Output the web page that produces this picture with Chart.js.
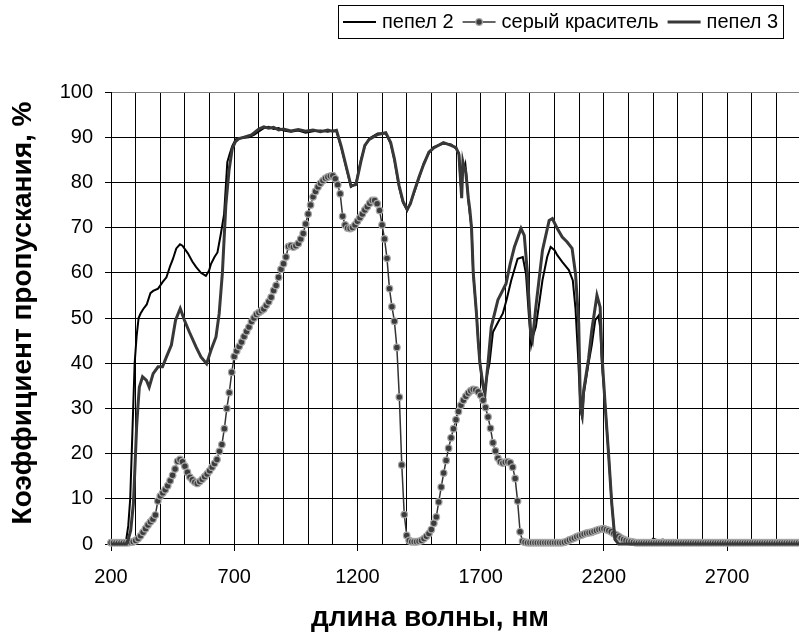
<!DOCTYPE html>
<html lang="ru">
<head>
  <meta charset="UTF-8" />
  <title>Коэффициент пропускания</title>
  <script src="https://cdn.jsdelivr.net/npm/chart.js@4.4.0/dist/chart.umd.min.js"></script>
  <style>
html, body { margin: 0; padding: 0; background: #fff; overflow: hidden; }
#wrap { position: absolute; left: 0; top: 0; width: 815px; height: 632px; }
  </style>
</head>
<body>
  <div id="wrap"><canvas id="chart" width="815" height="632"></canvas></div>

  <script>
    // пепел 2 : wavelength (nm) / transmission (%)
    const ash2Wl = [200,250,262,270,278,284,290,296,304,312,
      320,331,345,360,371,391,410,425,440,451,
      465,480,490,512,530,545,565,585,598,606,
      620,632,646,659,667,672,680,692,706,730,
      759,780,800,820,840,860,880,900,930,960,
      990,1020,1050,1080,1100,1115,1134,1154,1174,1194,
      1214,1230,1248,1282,1315,1335,1350,1369,1385,1402,
      1415,1429,1450,1469,1490,1509,1549,1580,1600,1612,
      1618,1623,1628,1632,1638,1643,1650,1656,1663,1670,
      1683,1690,1697,1710,1716,1725,1736,1750,1770,1790,
      1805,1824,1850,1871,1884,1897,1905,1912,1924,1951,
      1970,1984,2000,2011,2031,2058,2074,2085,2095,2105,
      2112,2118,2138,2151,2165,2178,2185,2192,2205,2219,
      2232,2245,2260,2380,2400,2420,2440,2460,3000];
    const ash2T = [0,0,1,4,10,20,30,40,46,50,
      51,52,53,55.5,56,56.5,58,59,61.5,63,
      65.4,66.3,66,64.3,62.5,61.3,60,59.3,60.5,62,
      63.5,64.5,68.7,73,80,84.5,86,88,89.5,89.8,
      90,90.5,91.3,92,92.3,91.8,92,91.5,91.2,91.5,
      91,91.3,91.5,91.2,91.5,91.3,87.8,83.4,79,79.7,
      84.9,88,89.7,90.8,90.8,88.6,85,79,75.5,73.8,
      75.5,77.5,81,84.2,86.5,87.8,88.6,88.4,87.5,86.5,
      80,77.5,85,82.7,84,81.2,76,73.1,70,59.8,
      51,45,40,34.7,32.9,37,40,46.9,49,51,
      54,58.3,63.1,63.5,59.8,49.5,44,46,48,58.4,
      63.5,65.7,65,63.9,62.4,60.6,58.3,52,42,30,
      28,33,40,44,49.5,50.5,48,40,31,20,
      9,1,0,0,1.2,0.8,1,0,0];

    // пепел 3
    const ash3Wl = [200,262,270,280,291,298,304,310,315,328,
      344,355,371,391,409,425,445,462,481,498,
      518,545,565,588,606,626,639,652,666,679,
      692,705,719,740,770,800,820,840,860,880,
      900,930,960,990,1020,1050,1080,1100,1115,1134,
      1154,1174,1194,1214,1230,1248,1282,1315,1335,1350,
      1369,1385,1402,1415,1429,1450,1469,1490,1509,1549,
      1580,1600,1612,1618,1623,1628,1632,1638,1643,1650,
      1656,1663,1670,1683,1690,1697,1710,1718,1730,1743,
      1770,1803,1820,1837,1864,1877,1890,1904,1910,1924,
      1951,1978,1991,2011,2031,2051,2071,2085,2098,2105,
      2112,2118,2138,2151,2172,2185,2192,2205,2219,2232,
      2245,2260,3000];
    const ash3T = [0,0,1,3,9,18,26,31,34.7,37,
      36.2,34.7,37.7,39.2,39.2,41.4,44,49.5,52.1,49.5,
      46.9,43.6,41.4,39.9,42.9,45.8,51,60,75,82.7,
      87.5,89,89.7,90,90.5,91.8,92.3,92,92.2,91.6,
      91.8,91.4,91.7,91.3,91.6,91.2,91.6,91.3,91.5,88,
      83.6,79.2,79.5,84.6,88.2,89.5,90.6,91,88.8,85.2,
      79.3,75.8,74,75.3,77.8,81.2,84,86.7,87.6,88.8,
      88.2,87.7,86.2,81,76.5,84.5,83.5,83,80.5,76.5,
      74,70,60,51,45,40,35,33.5,40,48,
      54,57.6,62,65.7,69.8,68.3,59.8,46,45,52.4,
      65,71.6,72,69.8,67.9,66.8,65.4,59.8,48.8,30,
      28.5,34,41,47.3,55,52.4,42,31,20,9,
      1,0,0];

    // серый краситель : one value every 10 nm from 200 nm, one row per 100 nm
    const dyeStart = 200, dyeStep = 10;
    const dyeT = [
      0.3,0.3,0.3,0.3,0.3,0.3,0.3,0.3,0.4,0.5,        // 200
      0.8,1.2,1.8,2.6,3.4,4.2,4.9,5.5,6.4,9.5,        // 300
      10.6,11.3,12.0,12.9,14.0,15.2,16.6,18.3,18.7,18.2, // 400
      17.2,15.9,14.8,14.2,13.7,13.4,13.8,14.3,14.9,15.5, // 500
      16.2,17.0,17.8,18.7,20.5,22.0,25.5,30.0,33.5,38.0, // 600
      41.5,42.7,43.7,44.7,45.9,47.0,48.0,49.2,50.0,50.8, // 700
      51.2,51.6,52.0,52.8,53.6,54.6,56.1,57.2,59.0,60.8, // 800
      62.0,63.5,65.8,66.0,65.7,66.0,66.5,67.5,68.7,70.8, // 900
      73.0,75.0,76.8,78.0,79.0,79.8,80.4,80.9,81.2,81.4, // 1000
      81.5,80.8,79.5,77.5,72.5,70.6,69.9,69.8,70.0,70.6, // 1100
      71.4,72.2,73.0,73.9,74.6,75.4,76.0,76.0,75.3,73.8, // 1200
      70.6,67.5,63.2,56.5,52.5,49.3,43.5,32.5,17.5,6.5,  // 1300
      1.9,0.8,0.5,0.5,0.5,0.6,0.8,1.2,1.7,2.3,          // 1400
      3.2,4.6,6.0,9.3,12.6,15.7,18.5,21.2,23.5,25.5,    // 1500
      27.5,29.3,30.7,31.8,32.7,33.4,33.9,34.2,34.1,33.7, // 1600
      32.9,31.8,30.2,28.1,25.6,22.4,20.6,19.0,18.2,17.9, // 1700
      18.1,18.2,18.0,17.0,14.5,9.5,2.7,0.6,0.4,0.3,     // 1800
      0.3,0.3,0.3,0.3,0.3,0.3,0.3,0.3,0.3,0.3,          // 1900
      0.3,0.3,0.3,0.3,0.4,0.6,0.9,1.1,1.3,1.6,          // 2000
      1.8,2.0,2.2,2.4,2.5,2.6,2.8,3.0,3.2,3.3,          // 2100
      3.4,3.2,3.0,2.7,2.3,2.0,1.7,1.3,1.0,0.8,          // 2200
      0.6,0.5,0.4,0.3,0.3,0.3,0.3,0.3,0.3,0.3,          // 2300
      0.3,0.3,0.3,0.3,0.3,0.3,0.3,0.3,0.3,0.3,          // 2400
      0.3,0.3,0.3,0.3,0.3,0.3,0.3,0.3,0.3,0.3,          // 2500
      0.3,0.3,0.3,0.3,0.3,0.3,0.3,0.3,0.3,0.3,          // 2600
      0.3,0.3,0.3,0.3,0.3,0.3,0.3,0.3,0.3,0.3,          // 2700
      0.3,0.3,0.3,0.3,0.3,0.3,0.3,0.3,0.3,0.3,          // 2800
      0.3,0.3,0.3,0.3,0.3,0.3,0.3,0.3,0.3,0.3,          // 2900
      0.3                                               // 3000
    ];

    const seriesNames = ['пепел 2', 'серый краситель', 'пепел 3'];
    const xTickLabels = [200, 700, 1200, 1700, 2200, 2700];
    const yTickStep = 10;
    const xTitle = 'длина волны, нм';
    const yTitle = 'Коэффициент пропускания, %';

    const FONT = '"Liberation Sans", Arial, sans-serif';
    const toXY = (xs, ys) => xs.map((x, i) => ({x: x, y: ys[i]}));
    const dyeData = dyeT.map((v, i) => ({x: dyeStart + i * dyeStep, y: v}));

    // vertical grid every 100 nm, labels only on the major ones
    const gridWl = [];
    for (let w = 200; w <= 3000; w += 100) gridWl.push(w);

    // boxed legend, top right
    const boxLegend = {
      id: 'boxLegend',
      afterDraw(chart) {
        const ctx = chart.ctx;
        const sets = chart.data.datasets;
        ctx.save();
        ctx.font = '20px ' + FONT;
        const sample = 33, gapS = 6, gapI = 9, padX = 5;
        let w = padX * 2;
        sets.forEach((ds, i) => {
          w += sample + gapS + ctx.measureText(ds.label).width + (i < sets.length - 1 ? gapI : 0);
        });
        const right = 783, top = 5, h = 33;
        const left = Math.round(right - w);
        ctx.strokeStyle = '#000'; ctx.lineWidth = 1;
        ctx.strokeRect(left + 0.5, top + 0.5, right - left, h);
        const cy = top + h / 2 + 0.5;
        let x = left + padX;
        sets.forEach(ds => {
          ctx.strokeStyle = ds.borderColor; ctx.lineWidth = ds.borderWidth;
          ctx.beginPath(); ctx.moveTo(x, cy); ctx.lineTo(x + sample, cy); ctx.stroke();
          if (ds.pointRadius > 0) {
            ctx.beginPath(); ctx.arc(x + sample / 2, cy, ds.pointRadius, 0, Math.PI * 2);
            ctx.fillStyle = ds.pointBackgroundColor; ctx.fill();
            ctx.lineWidth = ds.pointBorderWidth; ctx.strokeStyle = ds.pointBorderColor; ctx.stroke();
          }
          x += sample + gapS;
          ctx.fillStyle = '#000'; ctx.textAlign = 'left'; ctx.textBaseline = 'middle';
          ctx.fillText(ds.label, x, cy);
          x += ctx.measureText(ds.label).width + gapI;
        });
        ctx.restore();
      }
    };

    // axis titles
    const axisTitles = {
      id: 'axisTitles',
      afterDraw(chart) {
        const ctx = chart.ctx;
        ctx.save();
        ctx.fillStyle = '#000';
        ctx.font = 'bold 28px ' + FONT;
        ctx.textAlign = 'center'; ctx.textBaseline = 'middle';
        ctx.fillText(xTitle, 430, 618);
        ctx.translate(23, 313);
        ctx.rotate(-Math.PI / 2);
        ctx.fillText(yTitle, 0, 0);
        ctx.restore();
      }
    };

    new Chart(document.getElementById('chart'), {
      type: 'line',
      data: {
        datasets: [
          {label: seriesNames[0], data: toXY(ash2Wl, ash2T), borderColor: '#000', borderWidth: 2,
           pointRadius: 0, order: 3, clip: false},
          {label: seriesNames[1], data: dyeData, borderColor: '#333', borderWidth: 1.5,
           pointRadius: 3.3, pointBackgroundColor: '#3c3c3c', pointBorderColor: '#a6a6a6', pointBorderWidth: 1.2,
           order: 2, clip: false},
          {label: seriesNames[2], data: toXY(ash3Wl, ash3T), borderColor: '#383838', borderWidth: 3,
           pointRadius: 0, order: 1, clip: false}
        ]
      },
      options: {
        responsive: false,
        animation: false,
        events: [],
        layout: { padding: {top: 92, right: 7, left: 0, bottom: 0} },
        plugins: { legend: {display: false}, tooltip: {enabled: false} },
        scales: {
          x: {
            type: 'linear', min: 200, max: 3000,
            afterBuildTicks: s => { s.ticks = gridWl.map(v => ({value: v})); },
            afterFit: s => { s.height = 88; },
            ticks: {
              autoSkip: false, maxRotation: 0, padding: 14, color: '#000',
              font: {family: FONT, size: 20},
              callback: v => xTickLabels.includes(v) ? String(v) : ''
            },
            grid: {
              color: '#000', lineWidth: 1, tickLength: 7,
              tickColor: c => (c.tick && xTickLabels.includes(c.tick.value)) ? '#000' : 'rgba(0,0,0,0)'
            },
            border: {color: '#000', width: 1}
          },
          y: {
            min: 0, max: 100,
            afterFit: s => { s.width = 111; },
            ticks: { stepSize: yTickStep, padding: 12, color: '#000', font: {family: FONT, size: 20} },
            grid: {
              color: c => (c.tick && c.tick.value === 100) ? '#808080' : '#000',
              lineWidth: 1, tickLength: 6, tickColor: '#000'
            },
            border: {color: '#000', width: 1}
          }
        }
      },
      plugins: [boxLegend, axisTitles]
    });
  </script>
</body>
</html>
